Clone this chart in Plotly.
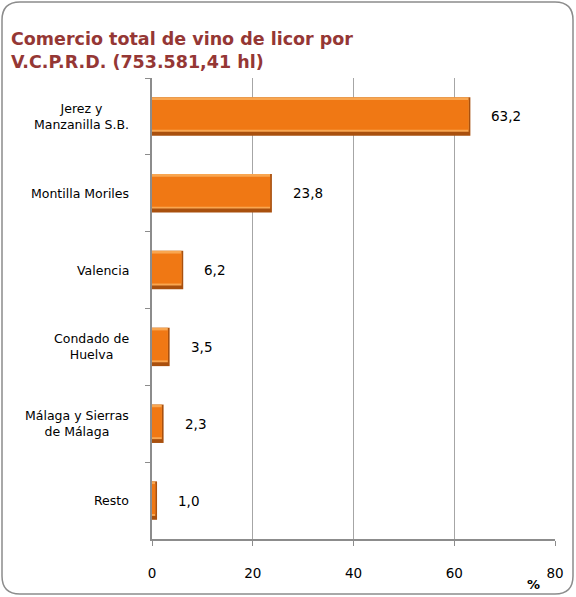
import plotly.graph_objects as go

categories = ["Jerez y<br>Manzanilla S.B.", "Montilla Moriles", "Valencia",
              "Condado de<br>Huelva", "Málaga y Sierras<br>de Málaga", "Resto"]
values = [63.2, 23.8, 6.2, 3.5, 2.3, 1.0]
x_ticks = [0, 20, 40, 60, 80]

W, H = 576, 597
L, R, T, B = 152, 21, 78, 58
pw, ph = W - L - R, H - T - B

def px(x):
    return (x - L) / pw

def py(y):
    return (H - B - y) / ph

fig = go.Figure()
# bevelled bars: dark shell, light top edge, orange face
inner = [max(v - 0.35, 0) for v in values]
fig.add_trace(go.Bar(x=values, y=categories, orientation="h", width=0.5, offset=-0.25,
                     marker=dict(color="#A9500E", line=dict(width=0)), hoverinfo="x+y"))
fig.add_trace(go.Bar(x=inner, y=categories, orientation="h", width=0.45, offset=-0.25,
                     marker=dict(color="#F9A650", line=dict(width=0)), hoverinfo="skip"))
fig.add_trace(go.Bar(x=inner, y=categories, orientation="h", width=0.39, offset=-0.215,
                     marker=dict(color="#F07814", line=dict(width=0)), hoverinfo="skip"))

# value labels, Spanish decimal comma
for v, c in zip(values, categories):
    fig.add_annotation(x=v, y=c, xref="x", yref="y", text=f"{v:.1f}".replace(".", ","),
                       showarrow=False, xanchor="left", xshift=19,
                       font=dict(size=13.5, color="#000000"))

# category labels centred like the original
for c in categories:
    fig.add_annotation(x=0, y=c, xref="paper", yref="y", text=c, showarrow=False,
                       xanchor="right", xshift=-21, align="center",
                       font=dict(size=12.5, color="#000000"))

fig.add_annotation(x=px(542), y=py(594), xref="paper", yref="paper", text="<b>%</b>",
                   showarrow=False, font=dict(size=13, color="#000000"))

# rounded frame
x0, x1, y0, y1, r = 2, 573, 2, 594, 18
path = (f"M {px(x0+r)},{py(y0)} L {px(x1-r)},{py(y0)} Q {px(x1)},{py(y0)} {px(x1)},{py(y0+r)} "
        f"L {px(x1)},{py(y1-r)} Q {px(x1)},{py(y1)} {px(x1-r)},{py(y1)} "
        f"L {px(x0+r)},{py(y1)} Q {px(x0)},{py(y1)} {px(x0)},{py(y1-r)} "
        f"L {px(x0)},{py(y0+r)} Q {px(x0)},{py(y0)} {px(x0+r)},{py(y0)} Z")
fig.add_shape(type="path", path=path, xref="paper", yref="paper",
              line=dict(color="#8C8C8C", width=1.5), layer="below")

fig.update_layout(
    width=W, height=H,
    margin=dict(l=L, r=R, t=T, b=B),
    paper_bgcolor="white", plot_bgcolor="white",
    font=dict(family="DejaVu Sans", size=13, color="#000000"),
    title=dict(text="<b>Comercio total de vino de licor por<br>V.C.P.R.D. (753.581,41 hl)</b>",
               x=11 / W, xanchor="left", y=1 - 45 / H, yanchor="top",
               font=dict(size=17.5, color="#953735", family="DejaVu Sans")),
    showlegend=False,
    barmode="overlay",
)
fig.update_xaxes(range=[0, 80], tickvals=x_ticks, showgrid=True, gridcolor="#A6A6A6",
                 gridwidth=1, showline=True, linecolor="#8C8C8C", linewidth=1.5,
                 ticks="outside", ticklen=5, tickcolor="#8C8C8C", zeroline=False,
                 tickfont=dict(size=13.5), ticklabelstandoff=16)
fig.update_yaxes(autorange="reversed", showticklabels=False, showline=True,
                 linecolor="#8C8C8C", linewidth=1.5, ticks="outside", ticklen=5,
                 tickcolor="#8C8C8C", tickson="boundaries", showgrid=False)

fig.write_html("out.html", post_script="document.body.style.margin='0';",
               config={"displayModeBar": False})
